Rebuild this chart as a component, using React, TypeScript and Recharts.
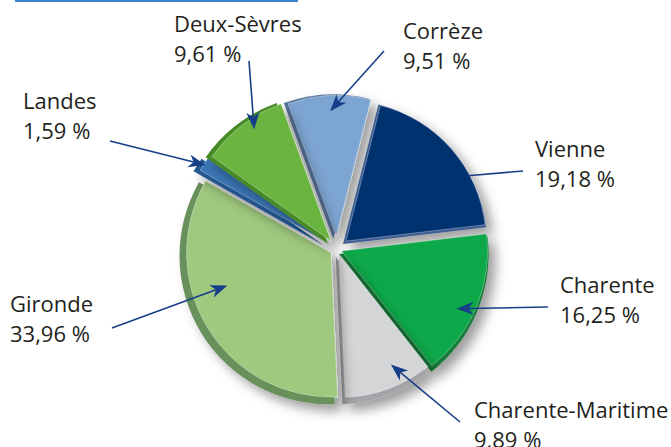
import { PieChart, Pie, Sector } from "recharts";

// parts of each département (percent)
const NAMES = ["Corrèze", "Vienne", "Charente", "Charente-Maritime", "Gironde", "Landes", "Deux-Sèvres"];
const SHARES = [9.51, 19.18, 16.25, 9.89, 33.96, 1.59, 9.61];
const VALUE_LABELS = ["9,51 %", "19,18 %", "16,25 %", "9,89 %", "33,96 %", "1,59 %", "9,61 %"];

// styling per slice
const FACE = ["#7da5d2", "#06306f", "#0fa84a", "#d4d5d7", "#9fc97e", "#3b77b6", "#6ab43f"];
const RIM = ["#5a779f", "#3d5d93", "#197a38", "#a3a4a7", "#68905a", "#24578f", "#478a28"];
const EXPLODE = [13, 12, 5, 5, 7, 12, 10];
const RSCALE = [0.965, 0.96, 1, 0.985, 0.99, 1, 1];

// where the text sits and where its arrow starts (dA / f place the arrow tip on the slice)
const LABEL_LAYOUT = [
  { x: 403, y: 39, sx: 384, sy: 51, dA: 0, f: 0.92, head: true },
  { x: 535, y: 157, sx: 523, sy: 171, dA: 12, f: 1.0, head: false },
  { x: 560, y: 293, sx: 548, sy: 307, dA: 4, f: 0.89, head: true },
  { x: 474, y: 418, sx: 460, sy: 422, dA: -4.6, f: 0.85, head: true },
  { x: 10, y: 312, sx: 112, sy: 328, dA: 13, f: 0.77, head: true },
  { x: 23, y: 109, sx: 110, sy: 141, dA: 0, f: 1.04, head: true },
  { x: 174, y: 32, sx: 249, sy: 61, dA: 2.6, f: 0.97, head: true },
];

const data = NAMES.map((name, i) => ({ name, value: SHARES[i], label: VALUE_LABELS[i] }));

const RAD = Math.PI / 180;

const renderSlice = (p: any) => {
  const { cx, cy, outerRadius, startAngle, endAngle, midAngle } = p;
  const name = p.name ?? p.payload?.name;
  const i = NAMES.indexOf(name);
  const e = EXPLODE[i] ?? 0;
  const dx = Math.cos(midAngle * RAD) * e;
  const dy = -Math.sin(midAngle * RAD) * e;
  const r = outerRadius * (RSCALE[i] ?? 1);
  return (
    <g filter="url(#pieShadow)">
      <Sector
        cx={cx + dx - 3}
        cy={cy + dy + 3}
        innerRadius={0}
        outerRadius={r}
        startAngle={startAngle}
        endAngle={endAngle}
        fill={RIM[i]}
        stroke="none"
      />
      <Sector
        cx={cx + dx}
        cy={cy + dy}
        innerRadius={0}
        outerRadius={r - 4}
        startAngle={startAngle}
        endAngle={endAngle}
        fill={FACE[i]}
        stroke="rgba(255,255,255,0.3)"
        strokeWidth={1}
      />
    </g>
  );
};

const renderLabel = (p: any) => {
  const { cx, cy, midAngle } = p;
  const name = p.name ?? p.payload?.name;
  const i = NAMES.indexOf(name);
  const L = LABEL_LAYOUT[i];
  const a = (midAngle - L.dA) * RAD;
  const r = 150 * L.f;
  const tipX = cx + Math.cos(a) * r;
  const tipY = cy - Math.sin(a) * r;
  const len = Math.hypot(tipX - L.sx, tipY - L.sy);
  const ux = (tipX - L.sx) / len;
  const uy = (tipY - L.sy) / len;
  const hl = 17;
  const hw = 6.5;
  const bx = tipX - ux * hl;
  const by = tipY - uy * hl;
  const nx = -uy;
  const ny = ux;
  const notchX = L.head ? tipX - ux * hl * 0.72 : tipX;
  const notchY = L.head ? tipY - uy * hl * 0.72 : tipY;
  return (
    <g key={"lbl-" + i}>
      <line x1={L.sx} y1={L.sy} x2={notchX} y2={notchY} stroke="#173f88" strokeWidth={1.6} />
      {L.head && (
        <polygon
          points={`${tipX},${tipY} ${bx + nx * hw},${by + ny * hw} ${notchX},${notchY} ${bx - nx * hw},${by - ny * hw}`}
          fill="#173f88"
        />
      )}
      <text x={L.x} y={L.y} fontSize={22} fill="#231f20" fontFamily="'Open Sans', 'Noto Sans', sans-serif">
        <tspan x={L.x} y={L.y}>{name}</tspan>
        <tspan x={L.x} y={L.y + 30}>{VALUE_LABELS[i]}</tspan>
      </text>
    </g>
  );
};

export default function App() {
  return (
    <div style={{ position: "absolute", left: 0, top: 0, width: 671, height: 447, background: "#fff", overflow: "hidden" }}>
      <svg width={0} height={0} style={{ position: "absolute" }}>
        <defs>
          <filter id="pieShadow" x="-30%" y="-30%" width="160%" height="160%">
            <feDropShadow dx="7" dy="7" stdDeviation="6" floodColor="#000" floodOpacity="0.38" />
          </filter>
        </defs>
      </svg>
      <div style={{ position: "absolute", left: 15, top: 0, width: 283, height: 2, background: "#3b88cb" }} />
      <PieChart width={671} height={447} margin={{ top: 0, right: 0, bottom: 0, left: 0 }}>
        <Pie
          data={data}
          dataKey="value"
          nameKey="name"
          cx={337}
          cy={249}
          outerRadius={150}
          startAngle={110}
          endAngle={-250}
          stroke="none"
          isAnimationActive={false}
          labelLine={false}
          label={renderLabel}
          shape={renderSlice}
          inactiveShape={renderSlice}
          activeShape={renderSlice}
        />
      </PieChart>
    </div>
  );
}
